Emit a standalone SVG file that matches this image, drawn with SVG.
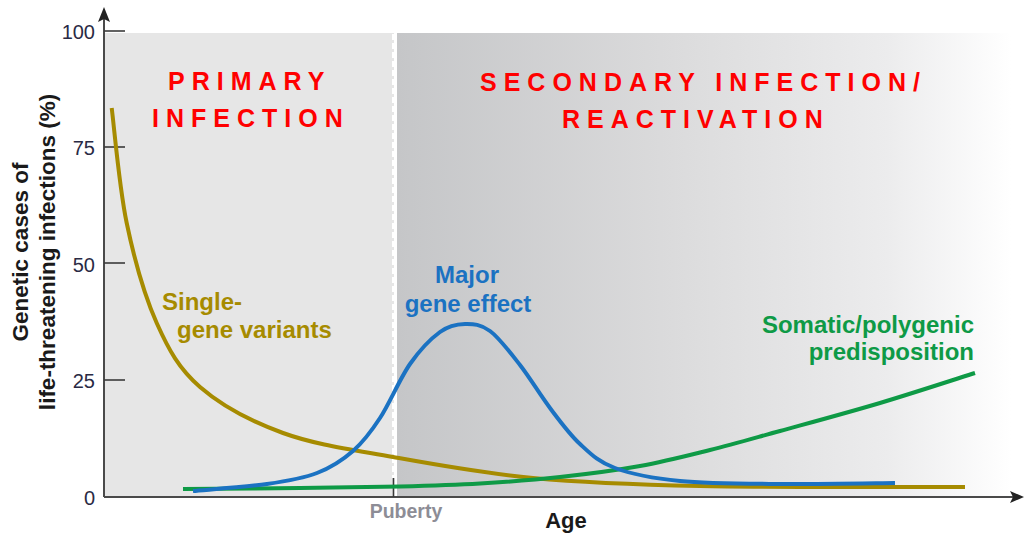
<svg xmlns="http://www.w3.org/2000/svg" width="1025" height="535" viewBox="0 0 1025 535">
<defs>
<linearGradient id="bgGrad" x1="0" y1="0" x2="1" y2="0">
<stop offset="0" stop-color="#c5c6c8"/>
<stop offset="0.45" stop-color="#dbdbdc"/>
<stop offset="0.8" stop-color="#ececed"/>
<stop offset="1" stop-color="#ffffff"/>
</linearGradient>
<style>
text{font-family:"Liberation Sans",Arial,sans-serif;}
.b{font-weight:bold;}
.title{font-size:25px;font-weight:bold;fill:#ff0000;letter-spacing:7px;}
.tick{font-size:20px;fill:#2a2a44;text-anchor:end;}
.lbl{font-size:24px;font-weight:bold;}
.curve{fill:none;stroke-width:4;stroke-linecap:butt;}
.axis{stroke:#4a4a4a;stroke-width:2;fill:none;}
.tk{stroke:#3a3a3a;stroke-width:1.6;}
</style>
</defs>
<g id="background">
<rect x="104" y="33" width="290" height="464" fill="#e6e6e6"/>
<rect x="397" y="33" width="614" height="464" fill="url(#bgGrad)"/>
<line x1="394.5" y1="34" x2="394.5" y2="478" stroke="#ffffff" stroke-width="5" stroke-dasharray="6 3"/>
</g>
<g id="titles">
<text class="title" x="168" y="90">PRIMARY</text>
<text class="title" x="152" y="127">INFECTION</text>
<text class="title" x="480" y="91">SECONDARY INFECTION/</text>
<text class="title" x="562" y="128">REACTIVATION</text>
</g>
<g id="axes">
<line class="axis" x1="104" y1="497" x2="104" y2="18"/>
<path d="M104,7 L110,22 L104,19 L98,22 Z" fill="#222"/>
<line class="axis" x1="104" y1="497" x2="1013" y2="497"/>
<path d="M1024,497 L1010,491 L1013,497 L1010,503 Z" fill="#222"/>
<line class="tk" x1="104" y1="31" x2="125" y2="31"/>
<line class="tk" x1="104" y1="147" x2="125" y2="147"/>
<line class="tk" x1="104" y1="263" x2="125" y2="263"/>
<line class="tk" x1="104" y1="380" x2="125" y2="380"/>
<line class="tk" x1="393.5" y1="478" x2="393.5" y2="497"/>
<text class="tick" x="95" y="39">100</text>
<text class="tick" x="95" y="155">75</text>
<text class="tick" x="95" y="272">50</text>
<text class="tick" x="95" y="388">25</text>
<text class="tick" x="95" y="505">0</text>
<text class="b" transform="translate(28,252) rotate(-90)" text-anchor="middle" font-size="22.5" fill="#1a1a1a">Genetic cases of</text>
<text class="b" transform="translate(55,252) rotate(-90)" text-anchor="middle" font-size="22.5" fill="#1a1a1a">life-threatening infections (%)</text>
<text class="b" x="406" y="518" text-anchor="middle" font-size="19.5" fill="#8d8d96">Puberty</text>
<text class="b" x="566" y="528" text-anchor="middle" font-size="22" fill="#1a1a1a">Age</text>
</g>
<g id="connectors">
<path id="single-gene-curve" class="curve" stroke="#a68b00" d="M111.7,108 C114.2,127.2 119.2,187.2 126.7,223 C134.2,258.8 144.5,295.7 156.7,323 C168.9,350.3 179,368.7 200,387 C221.05,405.3 250.8,421.3 283,433 C315.2,444.7 351.3,449.5 393,457 C434.7,464.5 481.8,473.2 533,478 C584.2,482.8 628,484.5 700,486 C772,487.5 920.8,486.8 965,487"/>
<path id="polygenic-curve" class="curve" stroke="#0e9a46" d="M183,489 C202.5,488.8 263.8,488.4 300,488 C336.2,487.6 370,487.25 400,486.5 C430,485.75 453.3,485.1 480,483.5 C506.7,481.9 533.3,479.9 560,477 C586.7,474.1 615,470.5 640,466 C665,461.5 686.7,455.8 710,450 C733.3,444.2 751.7,438.8 780,431 C808.3,423.2 847.5,412.7 880,403 C912.5,393.3 959.2,378 975,373"/>
<path id="major-gene-curve" class="curve" stroke="#1b72c2" d="M193,491 C205.3,489.8 246.3,487 267,484 C287.7,481 302.7,478.5 317,473 C331.3,467.5 342.5,460.2 353,451 C363.5,441.8 370.5,432.5 380,418 C389.5,403.5 400,378.3 410,364 C420,349.7 430.8,338.7 440,332 C449.2,325.3 456.7,324.2 465,324 C473.3,323.8 480.8,324.2 490,331 C499.2,337.8 510,352.2 520,365 C530,377.8 540,394.8 550,408 C560,421.2 569.2,434 580,444 C590.8,454 598.3,461.8 615,468 C631.7,474.2 652.5,478.3 680,481 C707.5,483.7 744.2,483.7 780,484 C815.8,484.3 875.8,483.2 895,483"/>
</g>
<g id="label-single-gene">
<text class="lbl" fill="#a68b00" x="162" y="310">Single-</text>
<text class="lbl" fill="#a68b00" x="177" y="338">gene variants</text>
</g>
<g id="label-major-gene">
<text class="lbl" fill="#1b72c2" x="467" y="283" text-anchor="middle">Major</text>
<text class="lbl" fill="#1b72c2" x="468" y="312" text-anchor="middle">gene effect</text>
</g>
<g id="label-polygenic">
<text class="lbl" fill="#0e9a46" x="974" y="333" text-anchor="end">Somatic/polygenic</text>
<text class="lbl" fill="#0e9a46" x="974" y="360" text-anchor="end">predisposition</text>
</g>
</svg>
